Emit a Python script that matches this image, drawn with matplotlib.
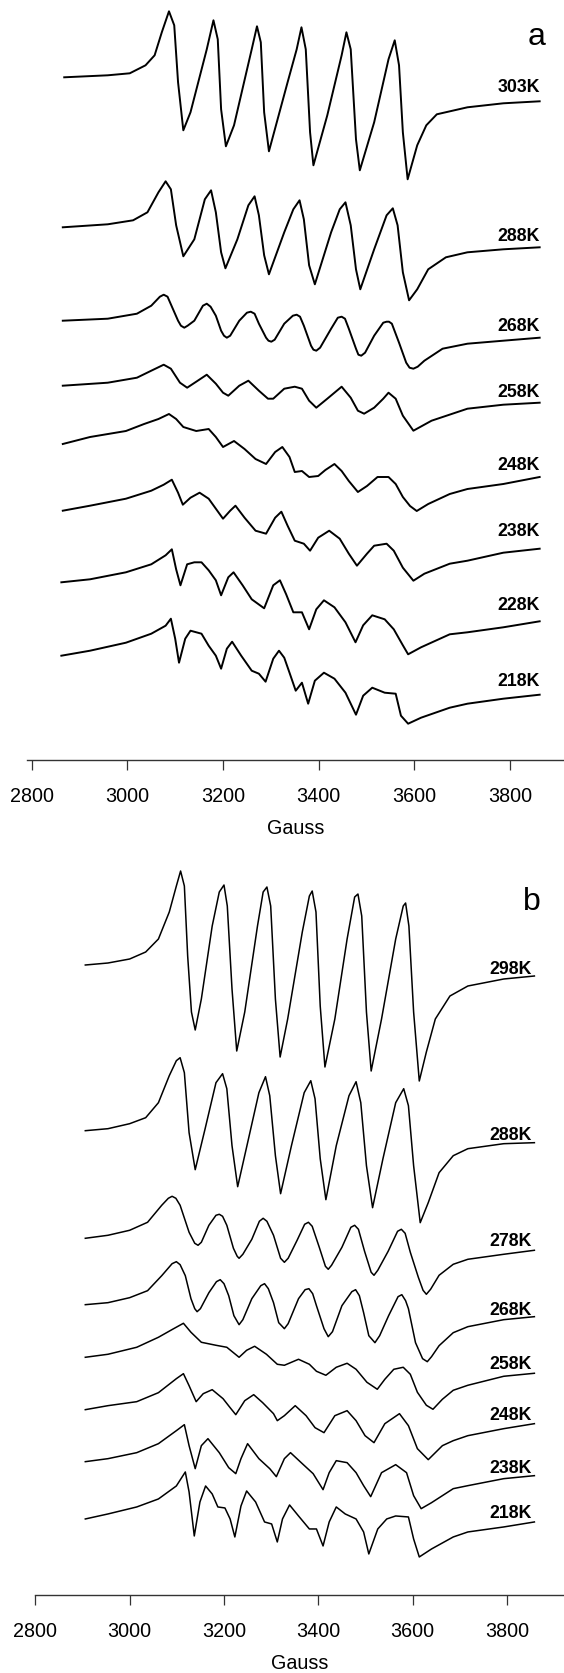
import numpy as np
import matplotlib.pyplot as plt

plt.rcParams['font.family'] = ['Liberation Sans', 'DejaVu Sans']

# ---- panel a : field (Gauss) and signal (arb. units) for each temperature ----
temps_a = ['303K', '288K', '268K', '258K', '248K', '238K', '228K', '218K']
offsets_a = [682.7, 532.7, 439.3, 374.3, 316, 249.3, 177.7, 104.3]
label_gap_a = [10, 7, 8, 7, 8.5, 13.5, 12, 10]

g_a303 = [2868, 2959, 3005, 3038, 3057, 3072, 3087, 3098, 3106, 3117, 3132, 3166, 3180, 3189, 3196, 3206, 3223, 3260, 3271, 3279,
          3286, 3296, 3335, 3354, 3364, 3373, 3382, 3389, 3418, 3448, 3458, 3467, 3478, 3486, 3516, 3546, 3559, 3568, 3576, 3586,
          3606, 3625, 3647, 3711, 3786, 3862]
s_a303 = [0, 2, 4, 12, 22, 45, 66, 52, -5, -53, -35, 28, 57, 38, -32, -69, -48, 28, 51, 35,
          -35, -74, -5, 28, 50, 28, -55, -88, -38, 22, 45, 28, -62, -93, -45, 18, 37, 12, -55, -102,
          -68, -48, -37, -30, -26, -24]

g_a288 = [2865, 2959, 3012, 3042, 3065, 3080, 3091, 3102, 3117, 3140, 3162, 3175, 3185, 3196, 3205, 3230, 3253, 3266, 3275, 3286,
          3296, 3328, 3347, 3360, 3369, 3380, 3392, 3426, 3444, 3456, 3467, 3478, 3487, 3516, 3542, 3555, 3565, 3576, 3589, 3606,
          3629, 3666, 3711, 3786, 3862]
s_a288 = [0, 3, 7, 15, 35, 46, 38, 2, -29, -12, 28, 37, 15, -25, -41, -12, 22, 31, 12, -28,
          -47, -5, 18, 27, 8, -38, -57, -5, 18, 25, 2, -42, -62, -22, 12, 19, 2, -45, -73, -62,
          -42, -30, -25, -22, -20]

g_a268 = [2865, 2959, 3020, 3050, 3068, 3076, 3084, 3095, 3106, 3112, 3119, 3126, 3140, 3158, 3166, 3174, 3185, 3196, 3202, 3208,
          3215, 3234, 3250, 3258, 3266, 3275, 3290, 3295, 3301, 3308, 3328, 3346, 3354, 3361, 3369, 3384, 3389, 3395, 3403, 3426,
          3440, 3448, 3455, 3463, 3478, 3483, 3489, 3497, 3516, 3535, 3542, 3547, 3553, 3568, 3583, 3590, 3598, 3607, 3621, 3659,
          3711, 3786, 3862]
s_a268 = [0, 2, 7, 15, 24, 26, 24, 12, 0, -5, -7, -5, 0, 15, 17, 14, 5, -10, -15, -17,
          -15, 0, 8, 9, 7, -3, -17, -20, -21, -19, -3, 5, 6, 4, -5, -25, -29, -30, -27, -8,
          3, 4, 2, -8, -28, -34, -35, -32, -15, -2, -1, -1, -3, -22, -42, -47, -48, -46, -40, -28,
          -23, -20, -17]

g_a258 = [2865, 2959, 3020, 3050, 3076, 3091, 3110, 3125, 3144, 3166, 3185, 3200, 3211, 3234, 3253, 3275, 3294, 3305, 3328, 3350,
          3365, 3380, 3395, 3418, 3448, 3467, 3482, 3495, 3516, 3535, 3546, 3561, 3576, 3598, 3636, 3711, 3786, 3862]
s_a258 = [0, 3, 8, 15, 21, 17, 3, -2, 4, 11, 2, -7, -10, 0, 5, -5, -13, -13, -3, -1,
          -3, -15, -22, -13, -1, -12, -25, -28, -22, -13, -7, -13, -30, -45, -35, -23, -19, -17]

g_a248 = [2865, 2922, 2997, 3035, 3065, 3087, 3102, 3117, 3144, 3170, 3185, 3200, 3223, 3245, 3268, 3290, 3309, 3324, 3339, 3350,
          3365, 3380, 3399, 3414, 3433, 3448, 3463, 3482, 3501, 3523, 3546, 3561, 3576, 3591, 3605, 3629, 3674, 3711, 3786, 3862]
s_a248 = [0, 7, 13, 20, 25, 30, 25, 17, 13, 15, 7, -3, 3, -5, -15, -20, -8, -3, -13, -28,
          -27, -33, -32, -26, -20, -27, -37, -48, -42, -33, -33, -40, -53, -62, -67, -60, -50, -45, -40, -33]

g_a238 = [2865, 2922, 2997, 3050, 3076, 3093, 3106, 3116, 3132, 3151, 3170, 3185, 3200, 3215, 3226, 3245, 3268, 3290, 3309, 3322,
          3335, 3350, 3369, 3382, 3399, 3422, 3444, 3463, 3480, 3501, 3516, 3542, 3557, 3576, 3598, 3621, 3674, 3711, 3786, 3862]
s_a238 = [0, 5, 12, 20, 26, 31, 18, 6, 13, 18, 12, 2, -8, 0, 5, -7, -20, -23, -7, -1,
          -15, -30, -33, -40, -27, -20, -28, -43, -55, -43, -35, -33, -40, -57, -70, -63, -53, -50, -42, -38]

g_a228 = [2862, 2922, 2997, 3050, 3080, 3093, 3102, 3111, 3125, 3140, 3155, 3170, 3185, 3196, 3211, 3222, 3241, 3260, 3286, 3305,
          3319, 3332, 3347, 3365, 3380, 3395, 3411, 3433, 3456, 3477, 3493, 3512, 3538, 3557, 3576, 3587, 3614, 3674, 3711, 3786,
          3862]
s_a228 = [0, 3, 10, 18, 27, 33, 13, -3, 18, 20, 20, 12, 2, -13, 5, 10, -3, -17, -26, -3,
          2, -12, -30, -30, -47, -27, -18, -25, -40, -60, -43, -33, -37, -47, -63, -72, -65, -52, -50, -45,
          -39]

g_a218 = [2862, 2922, 2997, 3050, 3080, 3091, 3100, 3108, 3121, 3132, 3155, 3170, 3185, 3196, 3208, 3219, 3238, 3260, 3275, 3289,
          3305, 3317, 3328, 3339, 3352, 3365, 3378, 3392, 3411, 3433, 3456, 3478, 3493, 3512, 3538, 3561, 3572, 3587, 3614, 3674,
          3711, 3786, 3862]
s_a218 = [0, 5, 13, 22, 30, 37, 17, -7, 17, 25, 22, 10, 0, -13, 7, 14, 0, -15, -18, -26,
          -3, 5, -2, -17, -35, -27, -48, -25, -17, -23, -37, -59, -40, -32, -37, -38, -60, -68, -62, -52,
          -48, -43, -39]

# ---- panel b ----
temps_b = ['298K', '288K', '278K', '268K', '258K', '248K', '238K', '218K']
offsets_b = [629.7, 464, 356.4, 290, 237.4, 185, 133, 75.7]
label_gap_b = [3, 4, 5, 3, 5, 4.5, 4, 5]

g_b298 = [2906, 2954, 3000, 3034, 3061, 3084, 3099, 3108, 3116, 3123, 3131, 3139, 3152, 3175, 3190, 3200, 3207, 3217, 3227, 3244,
          3271, 3283, 3291, 3299, 3309, 3319, 3335, 3366, 3381, 3387, 3395, 3404, 3414, 3435, 3461, 3477, 3484, 3492, 3502, 3512,
          3534, 3564, 3580, 3585, 3592, 3602, 3614, 3629, 3648, 3679, 3717, 3793, 3858]
s_b298 = [0, 2, 6, 13, 26, 53, 79, 94, 79, 9, -47, -65, -34, 39, 73, 80, 59, -24, -86, -47,
          39, 73, 78, 59, -34, -92, -54, 33, 69, 74, 53, -41, -102, -54, 26, 68, 71, 49, -47, -106,
          -54, 26, 59, 62, 39, -47, -116, -87, -54, -31, -21, -14, -11]

g_b288 = [2906, 2954, 3000, 3034, 3061, 3084, 3099, 3107, 3116, 3126, 3139, 3160, 3183, 3197, 3206, 3217, 3229, 3252, 3274, 3288,
          3297, 3309, 3320, 3343, 3370, 3384, 3393, 3404, 3416, 3438, 3465, 3480, 3490, 3502, 3515, 3537, 3564, 3581, 3591, 3602,
          3616, 3633, 3656, 3686, 3717, 3793, 3858]
s_b288 = [0, 2, 7, 13, 28, 55, 70, 73, 58, -2, -39, 2, 48, 57, 42, -15, -56, -8, 38, 54,
          35, -25, -63, -15, 38, 50, 32, -28, -69, -15, 35, 49, 28, -35, -77, -28, 28, 42, 25, -35,
          -92, -72, -42, -25, -18, -13, -12]

g_b278 = [2906, 2954, 3000, 3038, 3068, 3082, 3090, 3098, 3107, 3126, 3138, 3145, 3152, 3168, 3183, 3190, 3197, 3206, 3220, 3228,
          3232, 3240, 3259, 3275, 3283, 3291, 3305, 3320, 3328, 3336, 3355, 3371, 3379, 3387, 3402, 3415, 3421, 3428, 3450, 3469,
          3477, 3485, 3498, 3512, 3518, 3526, 3548, 3568, 3576, 3584, 3595, 3612, 3622, 3629, 3638, 3656, 3686, 3717, 3793, 3858]
s_b278 = [0, 3, 8, 16, 33, 40, 42, 40, 33, 6, -5, -7, -4, 13, 23, 24, 22, 13, -10, -18,
          -20, -16, -1, 17, 20, 17, 3, -20, -24, -20, -2, 14, 16, 12, -9, -28, -31, -27, -9, 11,
          13, 9, -13, -34, -37, -32, -13, 7, 9, 5, -14, -39, -52, -56, -51, -37, -26, -21, -16, -12]

g_b268 = [2906, 2954, 3000, 3038, 3068, 3090, 3099, 3107, 3118, 3130, 3138, 3143, 3150, 3168, 3184, 3192, 3200, 3210, 3221, 3232,
          3240, 3259, 3278, 3286, 3294, 3305, 3316, 3328, 3336, 3358, 3372, 3380, 3388, 3396, 3412, 3421, 3430, 3450, 3471, 3479,
          3487, 3496, 3507, 3520, 3530, 3549, 3569, 3577, 3585, 3591, 3606, 3621, 3631, 3640, 3656, 3686, 3717, 3793, 3858]
s_b268 = [0, 2, 7, 14, 29, 41, 43, 40, 29, 6, -4, -7, -4, 12, 23, 25, 21, 9, -11, -20,
          -15, 6, 19, 21, 16, 2, -18, -24, -19, 6, 15, 16, 11, -1, -24, -32, -27, -1, 13, 15,
          9, -8, -31, -38, -31, -11, 8, 10, 4, -4, -38, -54, -57, -52, -41, -28, -22, -15, -12]

g_b258 = [2906, 2954, 3015, 3061, 3091, 3114, 3130, 3152, 3183, 3206, 3232, 3248, 3265, 3290, 3313, 3328, 3358, 3381, 3396, 3416,
          3438, 3461, 3480, 3503, 3525, 3541, 3560, 3580, 3595, 3610, 3629, 3643, 3663, 3686, 3717, 3793, 3858]
s_b258 = [0, 3, 10, 20, 28, 34, 25, 15, 12, 10, 0, 7, 11, 3, -7, -8, -2, -7, -14, -18,
          -10, -6, -12, -25, -32, -22, -12, -10, -17, -35, -48, -52, -42, -33, -28, -19, -16]

g_b248 = [2906, 2954, 3015, 3061, 3099, 3114, 3126, 3141, 3156, 3175, 3198, 3213, 3225, 3244, 3263, 3282, 3305, 3313, 3328, 3351,
          3374, 3393, 3412, 3435, 3461, 3480, 3499, 3518, 3541, 3572, 3591, 3610, 3633, 3663, 3686, 3717, 3793, 3858]
s_b248 = [0, 4, 8, 17, 31, 36, 24, 8, 16, 20, 11, 2, -5, 9, 15, 7, -4, -11, -6, 4,
          -6, -18, -23, -6, -1, -11, -26, -33, -14, -4, -16, -39, -50, -36, -31, -26, -19, -14]

g_b238 = [2906, 2954, 3015, 3061, 3099, 3116, 3126, 3139, 3152, 3166, 3190, 3210, 3225, 3236, 3250, 3274, 3297, 3311, 3328, 3341,
          3366, 3389, 3410, 3423, 3438, 3461, 3480, 3496, 3511, 3534, 3564, 3587, 3602, 3618, 3640, 3686, 3717, 3793, 3858]
s_b238 = [0, 3, 9, 18, 31, 37, 16, -7, 16, 23, 9, -6, -12, 3, 18, 3, -7, -15, 3, 9,
          -2, -12, -28, -11, 1, -1, -11, -24, -35, -11, -3, -11, -34, -47, -41, -27, -24, -17, -14]

g_b218 = [2906, 2954, 3015, 3061, 3099, 3118, 3126, 3137, 3149, 3161, 3175, 3187, 3202, 3213, 3223, 3236, 3248, 3267, 3286, 3301,
          3313, 3324, 3339, 3358, 3381, 3396, 3410, 3423, 3438, 3457, 3480, 3496, 3507, 3526, 3545, 3564, 3591, 3602, 3614, 3640,
          3686, 3717, 3793, 3858]
s_b218 = [0, 5, 12, 20, 33, 47, 27, -17, 17, 33, 25, 12, 11, 0, -18, 13, 28, 17, -3, -5,
          -23, 0, 14, 3, -10, -10, -27, -3, 12, 5, 0, -13, -35, -10, 0, 3, 2, -20, -38, -30,
          -18, -13, -8, -3]

fields_a = [g_a303, g_a288, g_a268, g_a258, g_a248, g_a238, g_a228, g_a218]
signals_a = [s_a303, s_a288, s_a268, s_a258, s_a248, s_a238, s_a228, s_a218]
fields_b = [g_b298, g_b288, g_b278, g_b268, g_b258, g_b248, g_b238, g_b218]
signals_b = [s_b298, s_b288, s_b278, s_b268, s_b258, s_b248, s_b238, s_b218]

ticks = [2800, 3000, 3200, 3400, 3600, 3800]


def draw_panel(ax, fields, signals, offsets, temps, gaps, lw, xlim, ylim, lab_x, letter, letter_pos):
    ax.patch.set_visible(False)  # panels overlap slightly, keep the upper xlabel visible
    for g, s, off, t, gap in zip(fields, signals, offsets, temps, gaps):
        y = np.array(s) + off
        ax.plot(g, y, color='black', lw=lw, solid_joinstyle='round')
        ax.text(lab_x, y[-1] + gap, t, ha='right', va='baseline', fontsize=12.8, fontweight='bold')
    ax.set_xlim(*xlim)
    ax.set_ylim(*ylim)
    for side in ['left', 'right', 'top']:
        ax.spines[side].set_visible(False)
    ax.spines['bottom'].set_color('#333333')
    ax.spines['bottom'].set_linewidth(1.0)
    ax.set_yticks([])
    ax.set_xticks(ticks)
    ax.tick_params(axis='x', direction='out', length=7.5, width=0.9, color='#333333',
                   pad=11.5, labelsize=14.2)
    ax.set_xlabel('Gauss', fontsize=14.2, labelpad=9)
    ax.text(letter_pos[0], letter_pos[1], letter, transform=ax.transAxes, ha='center',
            va='baseline', fontsize=23)


fig = plt.figure(figsize=(5.64, 16.74), dpi=100)
ax_a = fig.add_axes([0.0473, 0.5454, 0.9527, 0.4546])
ax_b = fig.add_axes([0.0626, 0.0468, 0.9374, 0.4514])

draw_panel(ax_a, fields_a, signals_a, offsets_a, temps_a, label_gap_a, 1.4,
           (2789.5, 3912.9), (0, 761), 3862, 'a', (0.949, 0.941))
draw_panel(ax_b, fields_b, signals_b, offsets_b, temps_b, label_gap_b, 1.1,
           (2800, 3920.8), (0, 755.7), 3853, 'b', (0.940, 0.908))

plt.savefig('out.png', dpi=100)
